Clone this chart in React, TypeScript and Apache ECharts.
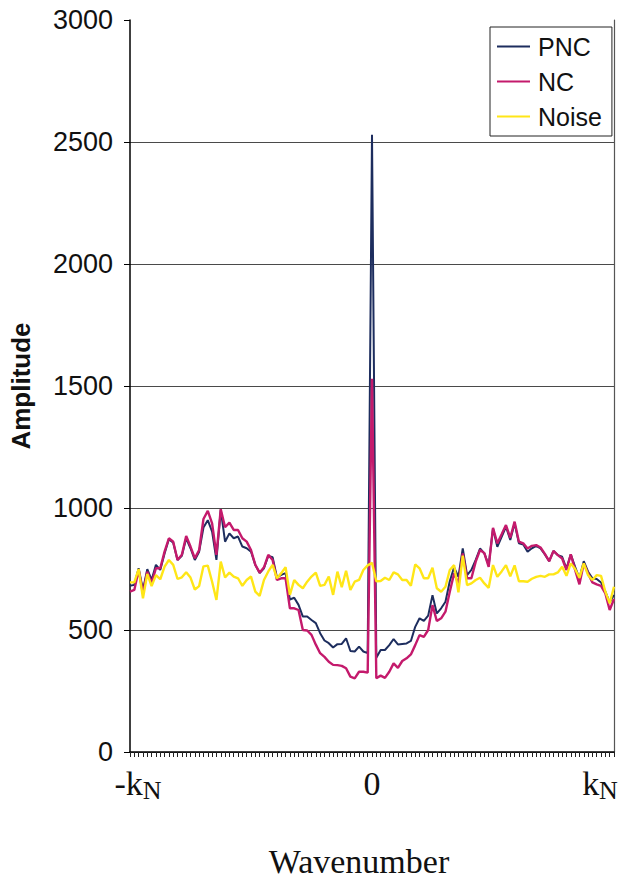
import React, { useEffect, useRef } from "react";
import * as echarts from "echarts";

// Wavenumber index from -kN (-56) through 0 to kN (+56)
const wavenumberIndex: number[] = Array.from({ length: 113 }, (_, i) => i - 56);

// Only the two Nyquist ends and zero carry a label
const tickLabels: Record<string, string> = {
  "-56": "{tl|-k}{s|N}",
  "0": "{t|0}",
  "56": "{t|k}{sr|N}",
};

const pnc: number[] = [
  681, 685, 753, 664, 749, 705, 767, 746, 814, 872, 858, 787, 804, 876, 835, 787,
  821, 920, 950, 903, 787, 992, 862, 896, 876, 883, 842, 835, 821, 767, 733, 753,
  804, 798, 716, 726, 733, 625, 632, 603, 555, 555, 541, 528, 487, 457, 446, 428,
  442, 443, 466, 414, 412, 432, 412, 405,
  2530,
  386, 418, 418, 438, 463, 441, 443, 445, 455, 513, 548, 537, 559, 643, 568, 589,
  616, 700, 757, 718, 834, 725, 746, 787, 834, 814, 766, 916, 841, 882, 923, 869,
  937, 855, 850, 821, 835, 845, 834, 810, 782, 824, 807, 800, 752, 810, 759, 712,
  782, 739, 712, 709, 695, 657, 613, 643,
];

const nc: number[] = [
  657, 664, 746, 651, 739, 692, 753, 753, 821, 876, 862, 787, 808, 885, 842, 794,
  828, 955, 988, 937, 808, 995, 921, 940, 910, 910, 876, 862, 828, 767, 735, 757,
  808, 787, 705, 712, 712, 589, 589, 582, 500, 498, 480, 440, 405, 390, 370, 357,
  356, 353, 343, 309, 302, 329, 329, 325,
  1530,
  302, 313, 304, 329, 363, 345, 373, 384, 400, 438, 479, 472, 500, 602, 537, 548,
  575, 657, 732, 690, 814, 712, 712, 780, 828, 815, 759, 919, 855, 892, 930, 878,
  944, 862, 855, 834, 845, 848, 838, 812, 782, 824, 807, 793, 746, 810, 746, 687,
  773, 732, 695, 687, 681, 650, 582, 627,
];

const noise: number[] = [
  695, 695, 750, 630, 730, 680, 725, 708, 760, 787, 767, 709, 716, 737, 715, 666,
  680, 761, 764, 698, 623, 780, 715, 735, 719, 712, 681, 705, 719, 657, 640, 705,
  740, 767, 712, 733, 757, 644, 705, 685, 671, 698, 719, 735, 681, 685, 719, 644,
  739, 675, 743, 664, 698, 705, 746, 765,
  775,
  700, 701, 714, 705, 736, 728, 705, 705, 681, 769, 753, 712, 712, 755, 671, 657,
  677, 746, 766, 654, 805, 684, 691, 705, 714, 691, 673, 766, 718, 740, 766, 720,
  765, 700, 700, 698, 710, 718, 722, 718, 728, 728, 736, 759, 722, 773, 750, 714,
  773, 725, 705, 725, 722, 657, 609, 677,
];

const seriesNames = ["PNC", "NC", "Noise"];
const seriesColors = ["#1d2d5e", "#c41a6c", "#ffe617"];

export default function App() {
  const ref = useRef<HTMLDivElement>(null);

  useEffect(() => {
    if (!ref.current) return;
    const chart = echarts.init(ref.current, null, { renderer: "svg" });

    const serif = "Liberation Serif";
    const sans = "Liberation Sans";

    const option: any = {
      animation: false,
      backgroundColor: "#ffffff",
      grid: {
        left: 130,
        right: 7,
        top: 20,
        bottom: 128,
        containLabel: false,
        outerBoundsMode: "none",
      },
      legend: {
        orient: "vertical",
        left: 490,
        top: 27,
        padding: [7, 10, 7, 7],
        itemGap: 10,
        itemWidth: 33,
        itemHeight: 2,
        icon: "rect",
        backgroundColor: "#ffffff",
        borderColor: "#222222",
        borderWidth: 1,
        data: seriesNames,
        textStyle: {
          fontFamily: sans,
          fontSize: 25,
          lineHeight: 25,
          color: "#111111",
          padding: [0, 0, 0, 3],
        },
      },
      xAxis: {
        type: "category",
        data: wavenumberIndex.map(String),
        boundaryGap: false,
        axisLine: { show: true, lineStyle: { color: "#000000", width: 1.5 } },
        axisTick: {
          show: true,
          interval: 0,
          length: 5,
          lineStyle: { color: "#222222", width: 1 },
        },
        axisLabel: {
          interval: 0,
          margin: 11,
          color: "#111111",
          formatter: (v: string) => tickLabels[v] ?? "",
          rich: {
            t: { fontFamily: serif, fontSize: 34, lineHeight: 40, color: "#111111" },
            tl: {
              fontFamily: serif,
              fontSize: 34,
              lineHeight: 40,
              color: "#111111",
              padding: [0, 0, 0, 16],
            },
            s: {
              fontFamily: serif,
              fontSize: 26,
              lineHeight: 26,
              color: "#111111",
              padding: [14, 0, 0, 0],
            },
            sr: {
              fontFamily: serif,
              fontSize: 26,
              lineHeight: 26,
              color: "#111111",
              padding: [14, 28, 0, 0],
            },
          },
        },
        splitLine: { show: false },
        name: "Wavenumber",
        nameLocation: "middle",
        nameGap: 92,
        nameTextStyle: {
          fontFamily: serif,
          fontSize: 34,
          color: "#111111",
          padding: [0, 26, 0, 0],
        },
      },
      yAxis: [
        {
          type: "value",
          min: 0,
          max: 3000,
          interval: 500,
          axisLine: { show: true, lineStyle: { color: "#000000", width: 1.5 } },
          axisTick: { show: true, length: 6, lineStyle: { color: "#000000" } },
          axisLabel: {
            margin: 17,
            fontFamily: sans,
            fontSize: 27,
            color: "#111111",
            formatter: (v: number) => String(v),
          },
          splitLine: {
            show: true,
            showMaxLine: false,
            lineStyle: { color: "#4a4a4a", width: 1.2 },
          },
          name: "Amplitude",
          nameLocation: "middle",
          nameRotate: 90,
          nameGap: 96,
          nameTextStyle: {
            fontFamily: sans,
            fontWeight: "bold",
            fontSize: 26,
            color: "#111111",
          },
        },
        {
          type: "value",
          min: 0,
          max: 3000,
          interval: 500,
          position: "right",
          axisLine: { show: true, lineStyle: { color: "#555555", width: 1.2 } },
          axisTick: { show: false },
          axisLabel: { show: false },
          splitLine: { show: false },
        },
      ],
      series: [
        {
          name: seriesNames[0],
          type: "line",
          data: pnc,
          symbol: "none",
          yAxisIndex: 0,
          lineStyle: { color: seriesColors[0], width: 2 },
          itemStyle: { color: seriesColors[0] },
          z: 2,
        },
        {
          name: seriesNames[1],
          type: "line",
          data: nc,
          symbol: "none",
          yAxisIndex: 0,
          lineStyle: { color: seriesColors[1], width: 2.4 },
          itemStyle: { color: seriesColors[1] },
          z: 3,
        },
        {
          name: seriesNames[2],
          type: "line",
          data: noise,
          symbol: "none",
          yAxisIndex: 0,
          lineStyle: { color: seriesColors[2], width: 2.4 },
          itemStyle: { color: seriesColors[2] },
          z: 4,
        },
      ],
    };

    chart.setOption(option);
    return () => chart.dispose();
  }, []);

  return (
    <div
      ref={ref}
      style={{
        position: "fixed",
        left: 0,
        top: 0,
        width: 621,
        height: 880,
        background: "#ffffff",
      }}
    />
  );
}
